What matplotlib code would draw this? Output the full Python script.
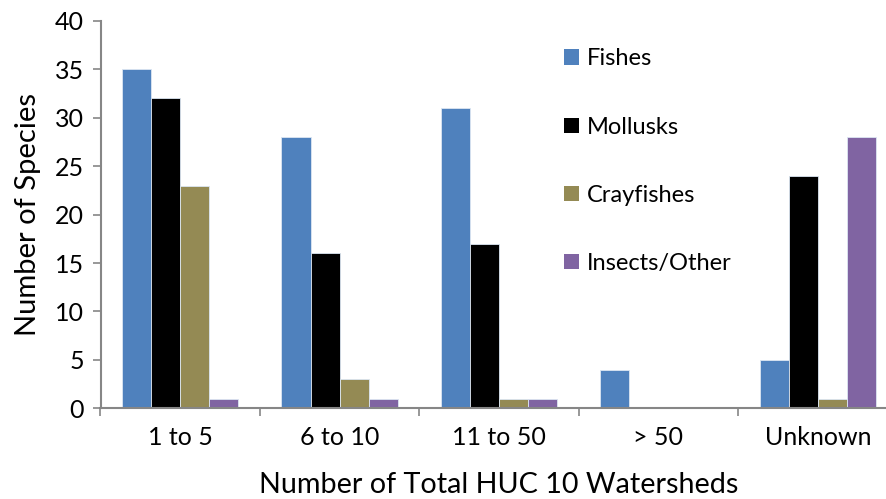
import matplotlib
matplotlib.use("Agg")
import matplotlib.pyplot as plt
import numpy as np

categories = ["1 to 5", "6 to 10", "11 to 50", "> 50", "Unknown"]
series_names = ["Fishes", "Mollusks", "Crayfishes", "Insects/Other"]
fishes = [35, 28, 31, 4, 5]
mollusks = [32, 16, 17, 0, 24]
crayfishes = [23, 3, 1, 0, 1]
insects = [1, 1, 1, 0, 28]
colors = ["#4F81BD", "#000000", "#948A54", "#8064A2"]
y_ticks = [0, 5, 10, 15, 20, 25, 30, 35, 40]

plt.rcParams['font.family'] = ['Lato', 'DejaVu Sans']

fig = plt.figure(figsize=(8.86, 4.99), dpi=100)
ax = fig.add_axes([100.5/886, 1-408.3/499, (897.5-100.5)/886, (408.3-21)/499])

x = np.arange(len(categories))
bw = 0.1825
data = [fishes, mollusks, crayfishes, insects]
for i, (name, vals, c) in enumerate(zip(series_names, data, colors)):
    ax.bar(x + (i - 1.5) * bw, vals, width=bw, color=c, label=name,
           edgecolor="#DCE6F2", linewidth=0.6, zorder=2)

ax.set_xlim(-0.5, len(categories) - 0.5)
ax.set_ylim(0, 40)
ax.set_yticks(y_ticks)
ax.set_xticks(x)
ax.set_xticklabels(categories)
ax.set_xticks(np.arange(-0.5, len(categories), 1), minor=True)
ax.tick_params(axis="x", which="major", length=0, pad=13, labelsize=18)
ax.tick_params(axis="x", which="minor", length=6, width=1.2, color="#868686")
ax.tick_params(axis="y", length=6, width=1.2, color="#868686", labelsize=18, pad=6)

for s in ["top", "right"]:
    ax.spines[s].set_visible(False)
for s in ["left", "bottom"]:
    ax.spines[s].set_color("#868686")
    ax.spines[s].set_linewidth(1.5)

ax.set_ylabel("Number of Species", fontsize=21, labelpad=10)
ax.set_xlabel("Number of Total HUC 10 Watersheds", fontsize=20.7, labelpad=16)

leg = ax.legend(loc="upper left", bbox_to_anchor=((555-100.5)/797, 1-(39-21)/387.3),
                frameon=False, fontsize=17, handlelength=0.62, handleheight=0.62,
                handletextpad=0.35, labelspacing=2.0, borderaxespad=0)
for h in leg.legend_handles:
    h.set_edgecolor("none")

fig.savefig("out.png", dpi=100)
